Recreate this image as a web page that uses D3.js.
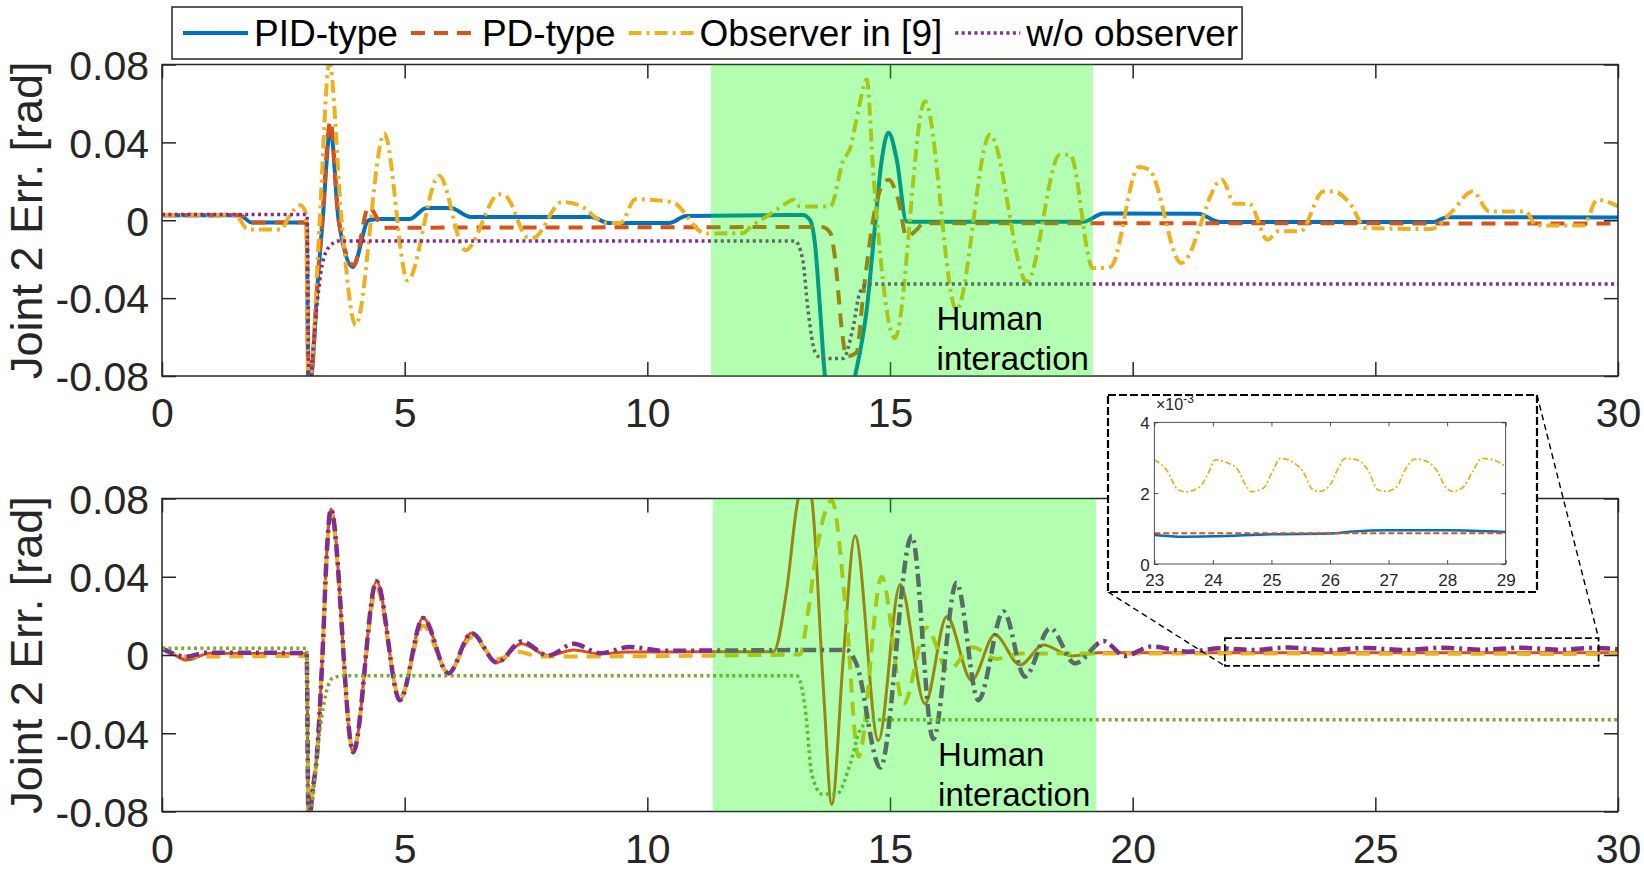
<!DOCTYPE html>
<html>
<head>
<meta charset="utf-8">
<script src="https://cdn.jsdelivr.net/npm/d3@7"></script>
<style>
  body { margin: 0; background: #fff; }
  svg { display: block; }
</style>
</head>
<body>
<div id="chart"></div>
<script>
// ---- data ----
const timeTicks = [0, 5, 10, 15, 20, 25, 30];
const errTicks = [-0.08, -0.04, 0, 0.04, 0.08];
const legendLabels = ["PID-type", "PD-type", "Observer in [9]", "w/o observer"];
const yLabel = "Joint 2 Err. [rad]";
const noteLines = ["Human", "interaction"];
const interactionTop = [11.31, 19.18];
const interactionBottom = [11.35, 19.25];

// top panel, [time s, error rad]
const topPid = [
  [0, 0.0026], [1.6, 0.0026], [1.85, -0.0012], [2.98, -0.0012], [3.02, -0.095], [3.1, -0.075],
  [3.2, -0.035], [3.31, 0.0], [3.47, 0.047], [3.64, 0.0], [3.93, -0.024], [4.26, 0.0],
  [4.5, 0.0006], [5.1, 0.0006], [5.45, 0.0063], [5.95, 0.0063], [6.35, 0.0017], [8.85, 0.0017],
  [9.2, -0.0014], [10.45, -0.0014], [10.8, 0.0022], [13.2, 0.0027], [13.35, 0.0002],
  [13.46, -0.0135], [13.56, -0.046], [13.66, -0.08], [13.95, -0.11], [14.28, -0.08],
  [14.52, -0.046], [14.69, -0.0032], [14.83, 0.031], [14.97, 0.045], [15.14, 0.031],
  [15.34, -0.0006], [15.6, -0.0008], [18.98, -0.0008], [19.4, 0.0035], [21.35, 0.0033],
  [21.8, -0.0009], [26.2, -0.0009], [26.47, 0.0016], [30, 0.0014]
];
const topPd = [
  [0, 0.0026], [1.6, 0.0026], [1.85, -0.0012], [2.98, -0.0012], [3.02, -0.095], [3.1, -0.075],
  [3.2, -0.033], [3.3, 0.0], [3.47, 0.051], [3.64, 0.0], [3.95, -0.023], [4.26, 0.0069],
  [4.58, -0.0038], [13.6, -0.0035], [13.77, -0.0065], [13.87, -0.02], [14.0, -0.0546],
  [14.1, -0.07], [14.31, -0.068], [14.45, -0.0375], [14.69, 0.0054], [14.83, 0.0174],
  [14.97, 0.0208], [15.17, 0.0105], [15.34, -0.0083], [15.55, -0.0049], [15.69, -0.0015],
  [30, -0.0017]
];
const topObserver = [
  [0, 0.0028], [1.5, 0.0028], [1.78, -0.0048], [2.45, -0.0048], [2.62, 0.002], [2.85, 0.0077],
  [2.96, 0.004], [3.02, -0.09], [3.1, -0.07], [3.25, 0.0], [3.45, 0.081], [3.7, 0.0],
  [3.99, -0.054], [4.58, 0.0445], [5.06, -0.031], [5.71, 0.0228], [6.25, -0.0154],
  [6.95, 0.0134], [7.1, 0.012], [7.54, -0.0089], [7.65, -0.009], [8.24, 0.0094], [8.6, 0.0077],
  [9.16, -0.0014], [9.45, -0.0014], [9.75, 0.0108], [10.5, 0.0094], [11.2, -0.0068],
  [11.98, -0.0066], [12.1, -0.004], [12.46, 0.002], [12.87, 0.0088], [13.0, 0.0105],
  [13.15, 0.0071], [13.77, 0.0071], [14.04, 0.031], [14.18, 0.037], [14.35, 0.0568],
  [14.52, 0.0723], [14.66, 0.0225], [15.1, -0.0606], [15.72, 0.0611], [16.37, -0.046],
  [17.06, 0.044], [17.82, -0.0315], [18.5, 0.0337], [18.71, 0.0337], [19.18, -0.0246],
  [19.54, -0.024], [20.13, 0.0274], [20.34, 0.026], [21.0, -0.022], [21.84, 0.0208],
  [22.1, 0.0085], [22.4, 0.0085], [22.78, -0.01], [23.0, -0.0057], [23.45, -0.0057],
  [23.93, 0.0148], [24.13, 0.0148], [24.48, 0.0085], [24.8, -0.004], [26.15, -0.0045],
  [26.58, 0.0045], [27.0, 0.0148], [27.35, 0.0045], [28.1, 0.0045], [28.31, -0.0027],
  [29.29, -0.0027], [29.57, 0.0105], [30, 0.0071]
];
const topNoObserver = [
  [0, 0.0029], [2.99, 0.0029], [3.03, -0.09], [3.1, -0.07], [3.2, -0.042], [3.3, -0.023],
  [3.45, -0.0135], [3.65, -0.0106], [13.04, -0.0106], [13.2, -0.02], [13.31, -0.046],
  [13.46, -0.068], [13.6, -0.071], [14.03, -0.071], [14.24, -0.055], [14.38, -0.037],
  [14.55, -0.0328], [30, -0.0328]
];

// bottom panel, [time s, error rad]
const bottomSolid = [
  [0, 0.0034], [0.2, 0.001], [0.51, -0.0026], [0.99, 0.0009], [2.98, 0.0006], [3.02, -0.088],
  [3.1, -0.07], [3.19, -0.052], [3.32, 0.0077], [3.39, 0.05], [3.48, 0.0746], [3.94, -0.0497],
  [4.42, 0.0377], [4.9, -0.0231], [5.38, 0.0189], [5.9, -0.0094], [6.38, 0.0112],
  [6.9, -0.0039], [7.41, 0.0057], [7.96, -0.0003], [8.48, 0.0026], [9.0, 0.0006], [9.6, 0.0015],
  [12.6, 0.0017], [12.87, 0.033], [13.08, 0.076], [13.26, 0.095], [13.41, 0.075],
  [13.63, -0.018], [13.8, -0.0763], [14.04, -0.0009], [14.28, 0.0609], [14.76, -0.0437],
  [15.21, 0.036], [15.72, -0.0249], [16.17, 0.0197], [16.68, -0.0129], [17.16, 0.0103],
  [17.68, -0.0051], [18.16, 0.0051], [18.75, -0.0005], [19.3, 0.0012], [30, 0.0012]
];
const bottomDashed = [
  [0, 0.0034], [0.3, 0.0], [0.6, -0.0008], [2.98, -0.0005], [3.02, -0.088], [3.1, -0.07],
  [3.19, -0.052], [3.32, 0.0077], [3.39, 0.048], [3.48, 0.072], [3.94, -0.049], [4.42, 0.034],
  [4.9, -0.022], [5.38, 0.015], [5.9, -0.009], [6.38, 0.009], [6.9, -0.002], [7.35, 0.0015],
  [7.8, -0.0008], [13.15, 0.0003], [13.3, 0.02], [13.5, 0.055], [13.8, 0.079], [14.1, 0.02],
  [14.35, -0.052], [14.83, 0.04], [15.28, -0.025], [15.75, 0.014], [16.2, -0.008],
  [16.7, 0.004], [17.2, -0.002], [17.7, 0.0008], [30, 0.0005]
];
const bottomDashDot = [
  [0, 0.0034], [0.2, 0.001], [0.51, -0.0009], [0.9, 0.0012], [2.98, 0.001], [3.02, -0.088],
  [3.1, -0.07], [3.19, -0.052], [3.32, 0.0077], [3.39, 0.05], [3.48, 0.0746], [3.94, -0.0497],
  [4.42, 0.0377], [4.9, -0.0231], [5.38, 0.0189], [5.9, -0.0094], [6.38, 0.0112],
  [6.9, -0.0039], [7.41, 0.0069], [7.96, -0.0003], [8.48, 0.0057], [9.03, 0.0009],
  [9.64, 0.0041], [10.3, 0.0022], [14.1, 0.0026], [14.3, -0.004], [14.8, -0.0575],
  [15.45, 0.0609], [15.89, -0.0429], [16.37, 0.0369], [16.82, -0.0231], [17.34, 0.0223],
  [17.78, -0.0111], [18.3, 0.0137], [18.81, -0.0043], [19.4, 0.0071], [19.84, -0.0005],
  [20.38, 0.0043], [21.14, 0.0017], [21.8, 0.0034], [22.5, 0.0026], [23.2, 0.0038],
  [24.0, 0.0025], [24.8, 0.0036], [25.6, 0.0026], [26.4, 0.0037], [27.2, 0.0027],
  [28.0, 0.0037], [28.8, 0.0027], [29.5, 0.0036], [30, 0.003]
];
const bottomDotted = [
  [0, 0.0034], [2.98, 0.0034], [3.02, -0.085], [3.1, -0.075], [3.19, -0.052], [3.32, -0.027],
  [3.53, -0.0115], [3.8, -0.0106], [13.08, -0.0106], [13.25, -0.0266], [13.39, -0.061],
  [13.6, -0.0711], [13.9, -0.0711], [14.18, -0.0557], [14.38, -0.0386], [14.62, -0.0331],
  [30, -0.0331]
];

// zoomed window of the bottom panel and the inset
const zoomTime = [21.9, 29.6];
const zoomErr = [-0.0056, 0.0086];
const insetTimeTicks = [23, 24, 25, 26, 27, 28, 29];
const insetErrTicks = [0, 0.002, 0.004];
const insetObserver = [
  [23.0, 0.00294], [23.21, 0.00265], [23.41, 0.00209], [23.55, 0.00204], [23.78, 0.00218],
  [23.92, 0.00256], [24.04, 0.00294], [24.24, 0.00286], [24.41, 0.0027], [24.58, 0.00218],
  [24.66, 0.00204], [24.86, 0.00214], [25.03, 0.00265], [25.15, 0.00298], [25.35, 0.00289],
  [25.54, 0.00261], [25.71, 0.00209], [25.83, 0.00205], [26.0, 0.00223], [26.14, 0.0027],
  [26.26, 0.00298], [26.46, 0.00294], [26.65, 0.00265], [26.82, 0.00209], [26.97, 0.00205],
  [27.14, 0.00218], [27.28, 0.00265], [27.45, 0.00296], [27.62, 0.00292], [27.82, 0.00265],
  [27.99, 0.00214], [28.1, 0.00205], [28.28, 0.00218], [28.45, 0.00265], [28.59, 0.00298],
  [28.79, 0.00294], [29.0, 0.00275]
];
const insetPid = [
  [23.0, 0.00082], [23.5, 0.00077], [24.0, 0.00078], [25.0, 0.00084], [26.0, 0.00086],
  [26.4, 0.00092], [27.0, 0.00095], [28.0, 0.00095], [29.0, 0.0009]
];
const insetPd = [[23.0, 0.00087], [29.0, 0.00087]];

// ---- style ----
const width = 1644, height = 875;
const font = '"Liberation Sans", Arial, Helvetica, sans-serif';
const axisColor = "#262626";
const colors = { blue: "#0072BD", orange: "#D95319", yellow: "#EDB120", purple: "#7E2F8E", green: "#77AC30" };
const dashes = { solid: null, dashed: "14 9", dashDot: "13 5 3 5", dotted: "3 3.4" };
const outer = { left: 1108, right: 1537, top: 395, bottom: 592 };

class ErrPanel {
  constructor(svg, box, xDomain, yDomain, id) {
    this.box = box;
    this.id = id;
    this.body = svg.append("g");
    this.x = d3.scaleLinear().domain(xDomain).range([box.left, box.right]);
    this.y = d3.scaleLinear().domain(yDomain).range([box.bottom, box.top]);
    this.line = d3
      .line()
      .curve(d3.curveMonotoneX)
      .x(d => this.x(d[0]))
      .y(d => this.y(d[1]));
    this.body
      .append("defs")
      .append("clipPath")
      .attr("id", id)
      .append("rect")
      .attr("x", box.left)
      .attr("y", box.top)
      .attr("width", box.right - box.left)
      .attr("height", box.bottom - box.top);
  }
  drawLines(series) {
    this.body
      .append("g")
      .attr("clip-path", `url(#${this.id})`)
      .selectAll("path")
      .data(series)
      .enter()
      .append("path")
      .attr("d", s => this.line(s.points))
      .attr("fill", "none")
      .attr("stroke", s => s.color)
      .attr("stroke-width", s => s.width)
      .attr("stroke-dasharray", s => s.dash)
      .attr("stroke-linejoin", "round");
  }
  drawAxes(o) {
    const { left, right, top, bottom } = this.box;
    const g = this.body.append("g");
    const tidy = sel => {
      sel.select(".domain").remove();
      sel.selectAll("line").attr("stroke", axisColor).attr("stroke-width", o.stroke);
      sel
        .selectAll("text")
        .attr("fill", axisColor)
        .attr("font-family", font)
        .attr("font-size", o.fontSize);
    };
    g.append("g")
      .attr("transform", `translate(0,${bottom})`)
      .call(d3.axisBottom(this.x).tickValues(o.xTicks).tickSize(-o.tickLen).tickPadding(o.xPad).tickFormat(o.xFormat))
      .call(tidy);
    g.append("g")
      .attr("transform", `translate(0,${top})`)
      .call(d3.axisTop(this.x).tickValues(o.xTicks).tickSize(-o.tickLen).tickFormat(""))
      .call(tidy);
    g.append("g")
      .attr("transform", `translate(${left},0)`)
      .call(d3.axisLeft(this.y).tickValues(o.yTicks).tickSize(-o.tickLen).tickPadding(o.yPad).tickFormat(o.yFormat))
      .call(tidy)
      .selectAll("text")
      .attr("dy", "0.36em");
    g.append("g")
      .attr("transform", `translate(${right},0)`)
      .call(d3.axisRight(this.y).tickValues(o.yTicks).tickSize(-o.tickLen).tickFormat(""))
      .call(tidy);
    g.append("rect")
      .attr("x", left)
      .attr("y", top)
      .attr("width", right - left)
      .attr("height", bottom - top)
      .attr("fill", "none")
      .attr("stroke", axisColor)
      .attr("stroke-width", o.stroke);
  }
  drawPatch(range) {
    // translucent green over the lines
    this.body
      .append("rect")
      .attr("x", this.x(range[0]))
      .attr("y", this.box.top)
      .attr("width", this.x(range[1]) - this.x(range[0]))
      .attr("height", this.box.bottom - this.box.top)
      .attr("fill", "rgb(0,255,0)")
      .attr("fill-opacity", 0.3);
  }
  drawNote(lines, t) {
    this.body
      .append("g")
      .selectAll("text")
      .data(lines)
      .enter()
      .append("text")
      .attr("x", this.x(t))
      .attr("y", (d, i) => this.box.bottom - 46 + i * 40)
      .attr("font-family", font)
      .attr("font-size", 33)
      .attr("fill", "#000")
      .text(d => d);
  }
  drawYLabel(text) {
    const cy = (this.box.top + this.box.bottom) / 2;
    this.body
      .append("text")
      .attr("transform", `translate(42,${cy}) rotate(-90)`)
      .attr("text-anchor", "middle")
      .attr("font-family", font)
      .attr("font-size", 45)
      .attr("fill", axisColor)
      .text(text);
  }
}

const svg = d3
  .select("#chart")
  .append("svg")
  .attr("width", width)
  .attr("height", height);
svg.append("rect").attr("width", width).attr("height", height).attr("fill", "#fff");

const errFormat = d => (d === 0 ? "0" : d.toFixed(2));
const mainAxis = {
  xTicks: timeTicks, yTicks: errTicks, yFormat: errFormat, xFormat: d => d,
  fontSize: 41, tickLen: 14, xPad: 22, yPad: 13, stroke: 1.5
};

const topSeries = [
  { points: topPid, color: colors.blue, width: 4, dash: dashes.solid },
  { points: topPd, color: colors.orange, width: 4, dash: dashes.dashed },
  { points: topObserver, color: colors.yellow, width: 4, dash: dashes.dashDot },
  { points: topNoObserver, color: colors.purple, width: 3.5, dash: dashes.dotted }
];
const bottomSeries = [
  { points: bottomSolid, color: colors.orange, width: 3, dash: dashes.solid },
  { points: bottomDashed, color: colors.yellow, width: 4, dash: dashes.dashed },
  { points: bottomDashDot, color: colors.purple, width: 4.5, dash: dashes.dashDot },
  { points: bottomDotted, color: colors.green, width: 3.5, dash: dashes.dotted }
];

// top panel (its 20 and 25 labels sit under the inset)
const topPanel = new ErrPanel(svg, { left: 162, right: 1618, top: 64.5, bottom: 376 }, [0, 30], [-0.08, 0.08], "clip-top");
const underInset = d => {
  const px = topPanel.x(d);
  return px > outer.left && px < outer.right;
};
topPanel.drawLines(topSeries);
topPanel.drawAxes({ ...mainAxis, xFormat: d => (underInset(d) ? "" : d) });
topPanel.drawPatch(interactionTop);
topPanel.drawNote(noteLines, 15.96);
topPanel.drawYLabel(yLabel);

// bottom panel
const bottomPanel = new ErrPanel(svg, { left: 162, right: 1618, top: 498.5, bottom: 811.5 }, [0, 30], [-0.08, 0.08], "clip-bottom");
bottomPanel.drawLines(bottomSeries);
bottomPanel.drawAxes(mainAxis);
bottomPanel.drawPatch(interactionBottom);
bottomPanel.drawNote(noteLines, 15.99);
bottomPanel.drawYLabel(yLabel);

// legend
const legend = svg.append("g").attr("font-family", font).attr("font-size", 37);
const legendBox = legend
  .append("rect")
  .attr("x", 172)
  .attr("y", 7)
  .attr("height", 52)
  .attr("fill", "#fff")
  .attr("stroke", axisColor)
  .attr("stroke-width", 1.5);
let cursor = 183;
topSeries.forEach((s, i) => {
  legend
    .append("line")
    .attr("x1", cursor)
    .attr("x2", cursor + 65)
    .attr("y1", 33)
    .attr("y2", 33)
    .attr("stroke", s.color)
    .attr("stroke-width", s.width)
    .attr("stroke-dasharray", s.dash);
  const label = legend
    .append("text")
    .attr("x", cursor + 71)
    .attr("y", 33)
    .attr("dy", "0.35em")
    .attr("fill", "#000")
    .text(legendLabels[i]);
  cursor += 71 + label.node().getComputedTextLength() + 13;
});
legendBox.attr("width", cursor - 13 + 4 - 172);

// zoom window and connectors
const zx0 = bottomPanel.x(zoomTime[0]), zx1 = bottomPanel.x(zoomTime[1]);
const zy0 = bottomPanel.y(zoomErr[1]), zy1 = bottomPanel.y(zoomErr[0]);
svg.append("rect")
  .attr("x", zx0)
  .attr("y", zy0)
  .attr("width", zx1 - zx0)
  .attr("height", zy1 - zy0)
  .attr("fill", "none")
  .attr("stroke", "#000")
  .attr("stroke-width", 1.8)
  .attr("stroke-dasharray", "7 3");
svg.append("g")
  .selectAll("line")
  .data([[outer.left, outer.bottom, zx0, zy1], [outer.right, outer.top, zx1, zy0]])
  .enter()
  .append("line")
  .attr("x1", d => d[0])
  .attr("y1", d => d[1])
  .attr("x2", d => d[2])
  .attr("y2", d => d[3])
  .attr("stroke", "#000")
  .attr("stroke-width", 1.4)
  .attr("stroke-dasharray", "6 4");
svg.append("rect")
  .attr("x", outer.left)
  .attr("y", outer.top)
  .attr("width", outer.right - outer.left)
  .attr("height", outer.bottom - outer.top)
  .attr("fill", "#fff")
  .attr("stroke", "#000")
  .attr("stroke-width", 2.2)
  .attr("stroke-dasharray", "8 3");

// inset
const inset = new ErrPanel(svg, { left: 1154.3, right: 1505.7, top: 422.3, bottom: 564 }, [23, 29], [0, 0.004], "clip-inset");
inset.drawLines([
  { points: insetPid, color: colors.blue, width: 2.5, dash: dashes.solid },
  { points: insetPd, color: colors.orange, width: 2, dash: "6 3" },
  { points: insetObserver, color: colors.yellow, width: 1.8, dash: "6 2.5 2 2.5" }
]);
inset.drawAxes({
  xTicks: insetTimeTicks, yTicks: insetErrTicks, yFormat: d => Math.round(d * 1000), xFormat: d => d,
  fontSize: 17, tickLen: 4, xPad: 10, yPad: 4.5, stroke: 0.8
});
const expo = inset.body
  .append("text")
  .attr("x", 1156)
  .attr("y", 410)
  .attr("font-family", font)
  .attr("font-size", 16)
  .attr("fill", axisColor);
expo.append("tspan").text("×10");
expo.append("tspan").attr("dy", -7).attr("font-size", 12).text("-3");
</script>
</body>
</html>
